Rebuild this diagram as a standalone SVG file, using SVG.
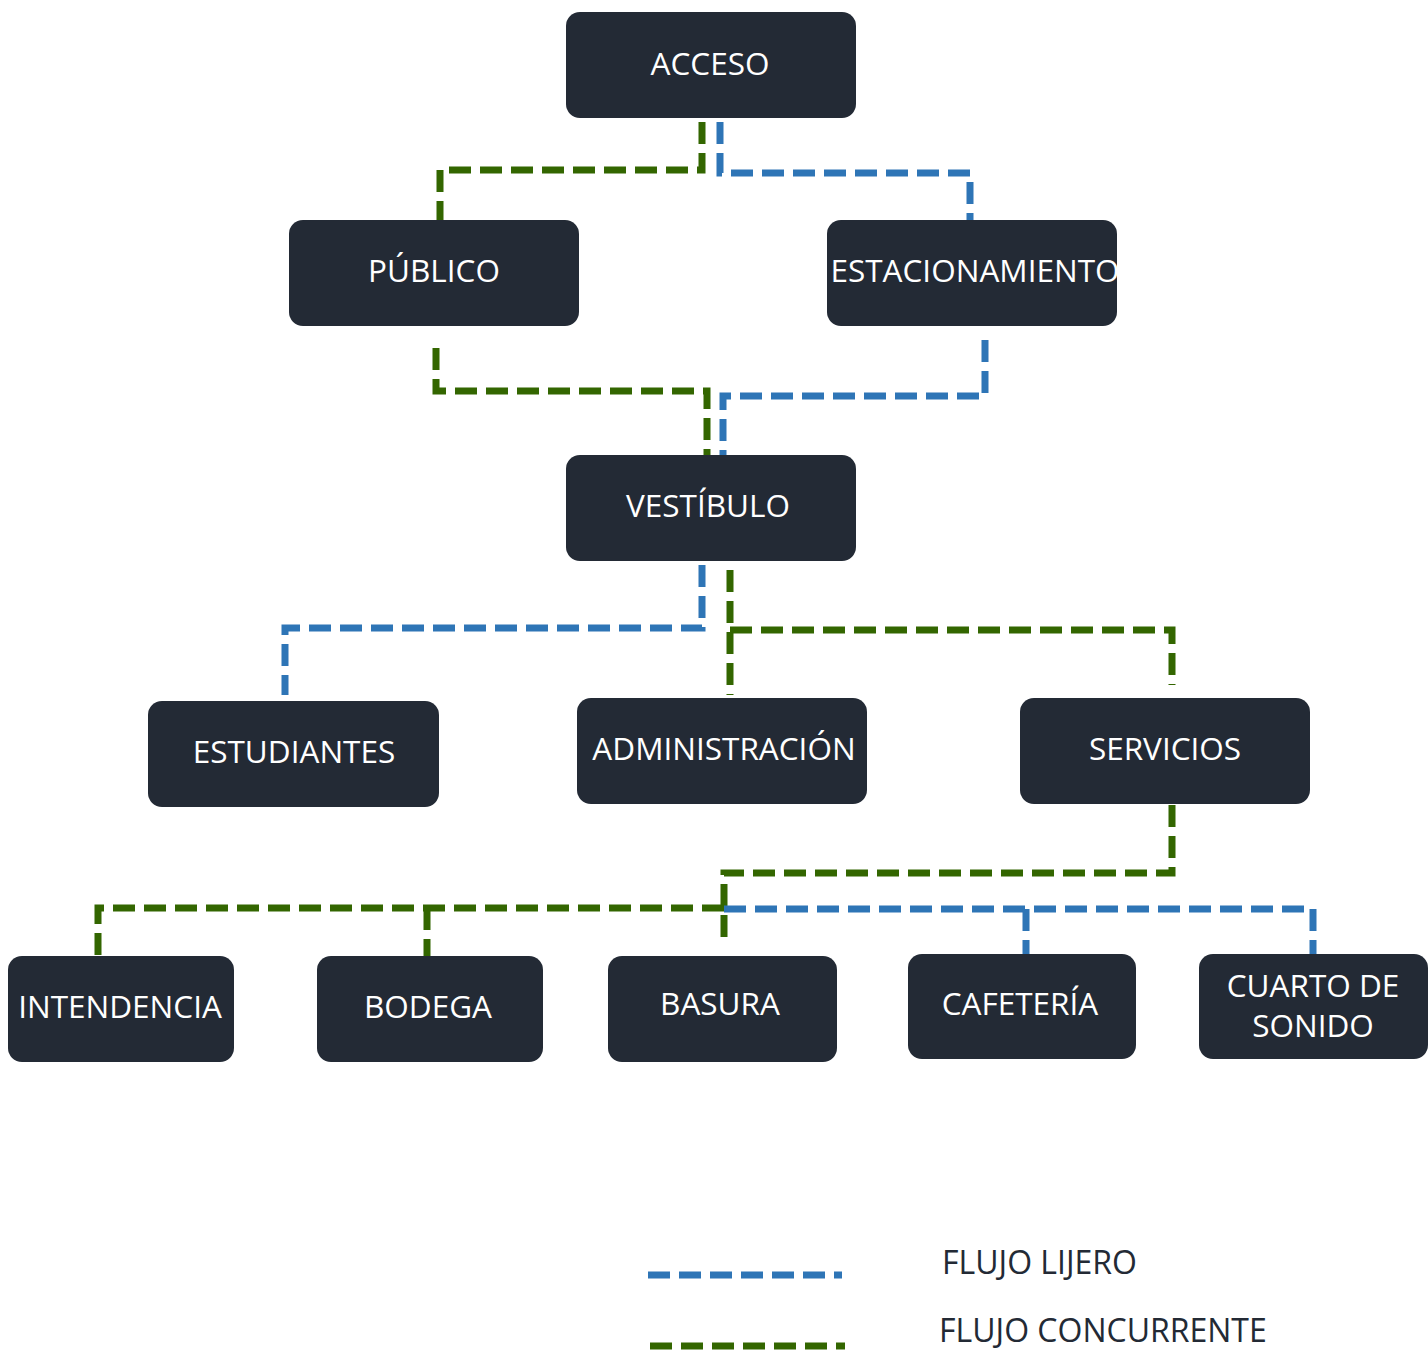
<svg xmlns="http://www.w3.org/2000/svg" width="1428" height="1352" viewBox="0 0 1428 1352">
<style>
.box{fill:#232a35}
.lbl{fill:#ffffff;font-family:"Open Sans","Noto Sans",sans-serif;font-size:31.5px;text-anchor:middle}
.leg{fill:#232a35;font-family:"Open Sans","Noto Sans",sans-serif;font-size:32px}
.g{fill:none;stroke:#336600;stroke-width:7;stroke-dasharray:22 9}
.b{fill:none;stroke:#2e75b6;stroke-width:7;stroke-dasharray:22 9}
</style>
<rect width="1428" height="1352" fill="#ffffff"/>
<g id="connectors">
<path class="g" d="M702 122 V170 H440 V220"/>
<path class="b" d="M720 122 V173 H970 V220"/>
<path class="g" d="M436 348 V391 H707 V455"/>
<path class="b" d="M985 340 V396 H723 V455"/>
<path class="b" d="M702 565 V628 H285 V695"/>
<path class="g" d="M730 570 V695"/>
<path class="g" d="M730 630 H1172 V685"/>
<path class="g" d="M1172 805 V873 H724 V942"/>
<path class="g" d="M724 908 H98 V956"/>
<path class="g" d="M427 908 V956"/>
<path class="b" d="M724 909 H1313 V954"/>
<path class="b" d="M1026 909 V954"/>
</g>
<g id="n-acceso"><rect class="box" x="566" y="12" width="290" height="106" rx="14"/><text class="lbl" x="710" y="75">ACCESO</text></g>
<g id="n-publico"><rect class="box" x="289" y="220" width="290" height="106" rx="14"/><text class="lbl" x="434" y="282">PÚBLICO</text></g>
<g id="n-estacionamiento"><rect class="box" x="827" y="220" width="290" height="106" rx="14"/><text class="lbl" x="975" y="282">ESTACIONAMIENTO</text></g>
<g id="n-vestibulo"><rect class="box" x="566" y="455" width="290" height="106" rx="14"/><text class="lbl" x="708" y="517">VESTÍBULO</text></g>
<g id="n-estudiantes"><rect class="box" x="148" y="701" width="291" height="106" rx="14"/><text class="lbl" x="294" y="763">ESTUDIANTES</text></g>
<g id="n-administracion"><rect class="box" x="577" y="698" width="290" height="106" rx="14"/><text class="lbl" x="724" y="760">ADMINISTRACIÓN</text></g>
<g id="n-servicios"><rect class="box" x="1020" y="698" width="290" height="106" rx="14"/><text class="lbl" x="1165" y="760">SERVICIOS</text></g>
<g id="n-intendencia"><rect class="box" x="8" y="956" width="226" height="106" rx="14"/><text class="lbl" x="120" y="1018">INTENDENCIA</text></g>
<g id="n-bodega"><rect class="box" x="317" y="956" width="226" height="106" rx="14"/><text class="lbl" x="428" y="1018">BODEGA</text></g>
<g id="n-basura"><rect class="box" x="608" y="956" width="229" height="106" rx="14"/><text class="lbl" x="720" y="1015">BASURA</text></g>
<g id="n-cafeteria"><rect class="box" x="908" y="954" width="228" height="105" rx="14"/><text class="lbl" x="1020" y="1015">CAFETERÍA</text></g>
<g id="n-cuarto"><rect class="box" x="1199" y="954" width="229" height="105" rx="14"/><text class="lbl" x="1313" y="997">CUARTO DE</text><text class="lbl" x="1313" y="1037">SONIDO</text></g>
<g id="legend">
<line class="b" x1="648" y1="1275" x2="842" y2="1275"/>
<line class="g" x1="650" y1="1346" x2="845" y2="1346"/>
<text class="leg" x="942" y="1274">FLUJO LIJERO</text>
<text class="leg" x="939" y="1342">FLUJO CONCURRENTE</text>
</g>
</svg>
